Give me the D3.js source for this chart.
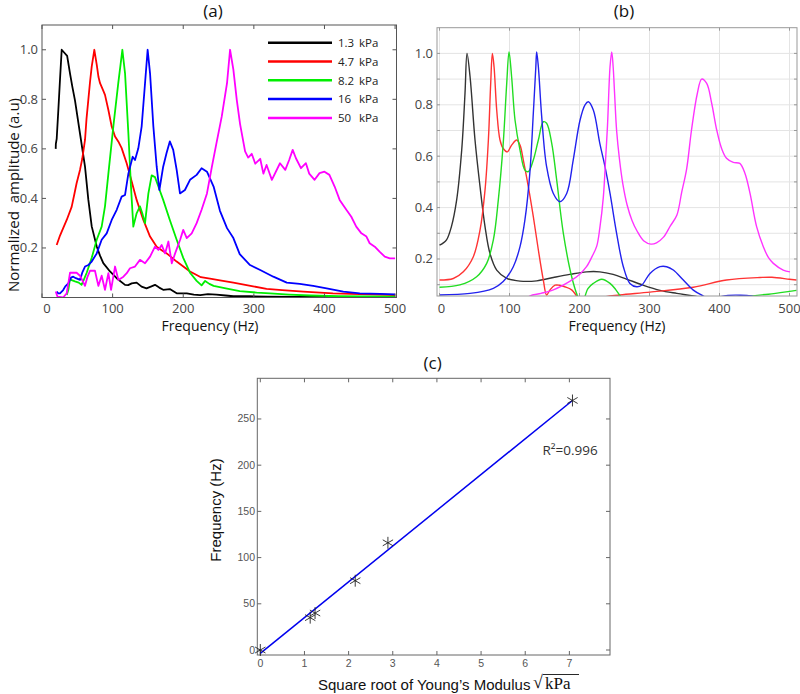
<!DOCTYPE html>
<html><head><meta charset="utf-8">
<script src="https://cdn.jsdelivr.net/npm/d3@7"></script>
<style>body{margin:0;background:#fff}svg{display:block}</style>
</head><body>
<script>
// ---------- DATA ----------
const seriesLabels = ["1.3", "4.7", "8.2", "16", "50"];
const colorsA = ["#000000", "#ff0000", "#00ee00", "#0000ff", "#ff00ff"];
const colorsB = ["#333333", "#ff3333", "#22dd22", "#2222ee", "#ff33ff"];
const freqTicks = [0, 100, 200, 300, 400, 500];
const ampTicks = [0.2, 0.4, 0.6, 0.8, 1.0];

// (a) measured spectra [frequency Hz, normalized amplitude]
const aBlack = [[19.4,0.6],[19.6,0.62],[20.8,0.64],[23,0.75],[25.5,0.88],[27.9,1.0],[31,0.99],[35.6,0.975],[39.7,0.904],[43,0.85],[46.7,0.796],[53.8,0.662],[60.9,0.528],[65.6,0.395],[70.4,0.287],[77.5,0.206],[82,0.17],[86.8,0.139],[96.3,0.105],[105.7,0.078],[117.6,0.051],[122,0.05],[127,0.057],[134,0.06],[141,0.044],[148,0.037],[155,0.045],[160,0.051],[166,0.04],[171.6,0.031],[181,0.034],[190.7,0.017],[205,0.017],[215,0.012],[224,0.01],[235,0.014],[247,0.012],[260,0.008],[271,0.005],[294,0.005],[320,0.003],[360,0.002],[400,0.002],[450,0.001],[500,0.001]];
const aRed = [[20.8,0.212],[25.5,0.25],[30,0.28],[35,0.313],[42,0.366],[46,0.42],[49,0.461],[53.8,0.515],[57,0.56],[60.9,0.636],[63,0.72],[65.6,0.798],[68,0.87],[70.4,0.932],[74.1,1.0],[77.5,0.94],[80,0.89],[82.2,0.865],[86,0.84],[89.2,0.818],[94,0.757],[98.7,0.69],[103.4,0.65],[108,0.63],[112.8,0.603],[119.9,0.542],[127,0.468],[134,0.394],[143.5,0.313],[153,0.246],[162.4,0.205],[170,0.19],[176.6,0.178],[190.7,0.145],[209.6,0.105],[225,0.082],[240,0.075],[252,0.069],[271,0.06],[299,0.045],[318,0.035],[340,0.03],[370,0.024],[412,0.017],[450,0.014],[500,0.01]];
const aGreen = [[35,0.01],[37.3,0.03],[39.7,0.077],[42,0.07],[46.7,0.065],[52,0.06],[56,0.051],[59,0.07],[63.3,0.1],[70.4,0.16],[77.5,0.233],[84.5,0.286],[89.2,0.368],[94,0.5],[101,0.69],[108,0.865],[113.8,1.0],[117.6,0.905],[122.3,0.663],[126,0.448],[129.3,0.286],[134,0.34],[138.7,0.368],[142,0.34],[145.9,0.3],[150.6,0.419],[155.3,0.493],[160,0.486],[164.8,0.448],[171.6,0.394],[181,0.313],[190.7,0.233],[200,0.16],[209.6,0.1],[219,0.067],[226,0.049],[231,0.067],[237,0.055],[243,0.047],[262,0.036],[280,0.026],[304,0.02],[323,0.017],[350,0.012],[380,0.008],[420,0.005],[460,0.004],[500,0.003]];
const aBlue = [[20.8,0.024],[23,0.017],[25.5,0.017],[30,0.03],[33,0.045],[37.3,0.057],[41,0.08],[44.2,0.084],[48,0.078],[53.8,0.071],[57,0.1],[60.9,0.125],[65,0.13],[70.4,0.145],[77.5,0.178],[84.5,0.233],[91.6,0.259],[98.7,0.313],[105.8,0.354],[112.8,0.407],[117.6,0.414],[122.3,0.5],[128.4,0.568],[131.7,0.555],[136.4,0.602],[141.1,0.69],[145.9,0.865],[149.6,1.0],[153,0.905],[157.7,0.69],[162.4,0.528],[166.2,0.434],[171.6,0.528],[176.3,0.582],[181,0.63],[185.8,0.596],[190.7,0.515],[195.4,0.42],[202.4,0.434],[209.6,0.475],[219,0.495],[226,0.522],[233.6,0.508],[243,0.448],[252,0.35],[262,0.28],[271,0.24],[280,0.175],[294.6,0.131],[309,0.111],[327.6,0.084],[346.6,0.06],[365,0.055],[384,0.047],[403,0.037],[426.7,0.024],[450,0.017],[479,0.015],[500,0.013]];
const aMagenta = [[19.4,0.024],[22,0.003],[30,0.0],[35,0.017],[39.7,0.1],[44,0.1],[49,0.1],[53.8,0.088],[60.9,0.047],[64,0.08],[68,0.108],[75,0.108],[79.8,0.047],[84.5,0.088],[89.2,0.031],[94,0.098],[97.8,0.031],[103.4,0.125],[108.2,0.071],[115.3,0.084],[120,0.098],[124.6,0.118],[131.7,0.125],[138.7,0.152],[145.9,0.138],[153,0.165],[160,0.205],[164.8,0.192],[169.5,0.212],[174.3,0.178],[179,0.226],[183.8,0.138],[188.5,0.178],[195.6,0.233],[200,0.273],[205,0.24],[212,0.259],[219,0.3],[226,0.354],[233.6,0.42],[240.6,0.528],[247,0.622],[254.5,0.73],[262,0.865],[266.3,1.0],[271,0.92],[275.8,0.798],[280.5,0.7],[287.6,0.59],[292,0.565],[297,0.58],[302,0.54],[309,0.56],[313.5,0.5],[318,0.535],[325.5,0.475],[337,0.542],[344.5,0.515],[350,0.555],[355,0.596],[359.6,0.562],[366.7,0.522],[373.7,0.542],[378.4,0.5],[386,0.475],[393,0.502],[400,0.508],[407,0.495],[414.4,0.448],[421.5,0.394],[431,0.354],[438,0.326],[445,0.286],[452.3,0.259],[459.4,0.246],[464,0.219],[471.2,0.205],[478,0.185],[485.4,0.165],[492.5,0.158],[500,0.158]];

// (b) simulated spectra
const bBlack = [[0,0.254],[5,0.262],[10,0.274],[17,0.326],[24.5,0.43],[31.7,0.624],[36.4,0.844],[39.3,1.0],[43.6,0.91],[50.7,0.663],[57.9,0.481],[65,0.326],[72,0.222],[81.7,0.157],[96,0.125],[115,0.114],[138.8,0.115],[162.6,0.128],[186,0.14],[210,0.15],[229,0.15],[248,0.14],[267,0.122],[291,0.098],[315,0.078],[339,0.066],[362.6,0.056],[385,0.045],[420,0.03]];
const bRed = [[0,0.118],[19.7,0.124],[34,0.15],[48.3,0.209],[57.9,0.313],[65,0.468],[69.8,0.663],[73.1,0.883],[75.5,1.0],[77.9,0.948],[81.7,0.78],[86.4,0.663],[91,0.63],[96.9,0.617],[103,0.643],[110.2,0.663],[115,0.643],[119.7,0.585],[126.9,0.481],[134,0.365],[141.2,0.235],[148.3,0.118],[153,0.06],[157.9,0.08],[165,0.098],[171,0.098],[179,0.092],[188.8,0.08],[196,0.056],[202,0.035],[215,0.02],[225,0.03],[236.4,0.052],[257.7,0.06],[300.7,0.071],[362.6,0.09],[410,0.118],[457.9,0.128],[475,0.129],[500,0.121],[510,0.118]];
const bGreen = [[0,0.09],[29,0.099],[53,0.131],[67.4,0.183],[76.9,0.274],[84,0.43],[91,0.65],[96,0.883],[99.3,1.006],[103,0.909],[107.9,0.74],[115,0.624],[122,0.546],[126.9,0.54],[134,0.585],[141.2,0.663],[148.3,0.734],[153,0.728],[160.3,0.65],[167.4,0.507],[176.9,0.3],[188.8,0.131],[198,0.05],[202,0.03],[207,0.05],[212,0.085],[219.7,0.105],[231.7,0.121],[243.6,0.105],[252,0.08],[260,0.05],[270,0.025],[300,0.01],[400,0.02],[443.6,0.055],[470,0.063],[499.7,0.074],[510,0.078]];
const bBlue = [[0,0.06],[43.6,0.066],[76.9,0.086],[91,0.112],[105.4,0.17],[115,0.248],[122,0.352],[129,0.533],[134,0.767],[137.6,0.948],[138.8,1.006],[141.2,0.948],[146,0.753],[153,0.559],[162.6,0.455],[172,0.423],[181.7,0.455],[191,0.585],[200.7,0.74],[207.9,0.8],[212.6,0.812],[219.7,0.78],[229,0.65],[236.4,0.559],[243.6,0.455],[253,0.3],[262.6,0.17],[272,0.105],[281.7,0.092],[288.8,0.098],[300.7,0.144],[315,0.17],[324.5,0.17],[334,0.157],[348.3,0.118],[362.6,0.079],[376.9,0.056],[388,0.04],[400,0.052],[412,0.058],[430,0.059],[445,0.056],[460,0.045],[500,0.03]];
const bMagenta = [[120,0.03],[129,0.056],[145,0.066],[162.6,0.08],[186,0.113],[200,0.14],[210,0.17],[218,0.21],[224.6,0.25],[229,0.32],[234,0.44],[237.5,0.6],[240,0.72],[243.6,0.948],[246,1.006],[248,0.95],[250,0.85],[253,0.7],[257,0.59],[262,0.49],[268,0.41],[275,0.35],[282,0.31],[292,0.27],[302,0.258],[310,0.263],[320,0.285],[330,0.33],[339,0.37],[346,0.46],[353,0.55],[360,0.702],[368.3,0.844],[374.5,0.9],[381.7,0.883],[388.8,0.806],[396,0.702],[403,0.63],[410,0.592],[419.7,0.576],[429,0.572],[436.4,0.533],[443.6,0.455],[453,0.326],[462.6,0.248],[470,0.205],[476.9,0.183],[491,0.157],[500.7,0.15]];

// (c) resonance frequency vs sqrt(E)
const sqrtE = [0, 1.13, 1.24, 2.15, 2.89, 7.07];
const peakFreq = [0, 35, 40, 75, 116, 270];
const fitX = [0, 7.07];
const fitY = [-3.6, 270];
const cXTicks = [0, 1, 2, 3, 4, 5, 6, 7];
const cYTicks = [0, 50, 100, 150, 200, 250];

// ---------- DRAW ----------
const W = 800, H = 694;
const svg = d3.select("body").append("svg").attr("width", W).attr("height", H);
const sans = "'Open Sans', 'Liberation Sans', sans-serif";
const arial = "'Liberation Sans', Arial, sans-serif";
const serif = "'Liberation Serif', 'DejaVu Serif', serif";

function tickMarks(g, x, y, xt, yt, len, col) {
  const [x0, x1] = x.range(), [y0, y1] = y.range();
  xt.forEach(t => {
    g.append("line").attr("x1", x(t)).attr("x2", x(t)).attr("y1", y0).attr("y2", y0 - len).attr("stroke", col);
    g.append("line").attr("x1", x(t)).attr("x2", x(t)).attr("y1", y1).attr("y2", y1 + len).attr("stroke", col);
  });
  yt.forEach(t => {
    g.append("line").attr("x1", x0).attr("x2", x0 + len).attr("y1", y(t)).attr("y2", y(t)).attr("stroke", col);
    g.append("line").attr("x1", x1).attr("x2", x1 - len).attr("y1", y(t)).attr("y2", y(t)).attr("stroke", col);
  });
}

// ===== Panel (a) =====
{
  const x = d3.scaleLinear().domain([0, 502]).range([42, 396.5]);
  const y = d3.scaleLinear().domain([0, 1.1]).range([297.5, 25]);
  const g = svg.append("g");
  g.append("clipPath").attr("id", "clipA").append("rect")
    .attr("x", 42).attr("y", 25).attr("width", 354.5).attr("height", 272.5);
  const line = d3.line().x(d => x(d[0])).y(d => y(d[1]));
  const series = [aBlack, aRed, aGreen, aBlue, aMagenta];
  series.forEach((s, i) => {
    g.append("path").attr("d", line(s)).attr("fill", "none")
      .attr("stroke", colorsA[i]).attr("stroke-width", 1.8).attr("stroke-linejoin", "round")
      .attr("clip-path", "url(#clipA)");
  });
  g.append("rect").attr("x", 42).attr("y", 25).attr("width", 354.5).attr("height", 272.5)
    .attr("fill", "none").attr("stroke", "#555").attr("stroke-width", 1);
  tickMarks(g, x, y, freqTicks, ampTicks, 4, "#555");
  freqTicks.forEach(t => g.append("text").attr("x", x(t) + (t === 0 ? 5 : 0)).attr("y", 313)
    .attr("text-anchor", "middle").attr("font-family", sans).attr("font-size", 13).attr("fill", "#444").text(t));
  ampTicks.forEach(t => g.append("text").attr("x", 38).attr("y", y(t) + 4.5)
    .attr("text-anchor", "end").attr("font-family", sans).attr("font-size", 13).attr("fill", "#444").text(t.toFixed(1)));
  g.append("text").attr("x", 210).attr("y", 331).attr("text-anchor", "middle")
    .attr("font-family", sans).attr("font-size", 14).attr("fill", "#111").text("Frequency (Hz)");
  g.append("text").attr("transform", "translate(19,195) rotate(-90)").attr("text-anchor", "middle")
    .attr("font-family", sans).attr("font-size", 15).attr("fill", "#111")
    .style("white-space", "pre").text("Normalized  amplitude (a.u)");
  g.append("text").attr("x", 213).attr("y", 17).attr("text-anchor", "middle")
    .attr("font-family", sans).attr("font-size", 17).attr("fill", "#111").text("(a)");
  // legend
  seriesLabels.forEach((lab, i) => {
    const ly = 42.7 + i * 18.8;
    g.append("line").attr("x1", 268).attr("x2", 332).attr("y1", ly).attr("y2", ly)
      .attr("stroke", colorsA[i]).attr("stroke-width", 2.5);
    const t = g.append("text").attr("y", ly + 4.2).attr("font-family", sans).attr("font-size", 11.5).attr("fill", "#222");
    t.append("tspan").attr("x", 338).text(lab);
    t.append("tspan").attr("x", 359).text("kPa");
  });
}

// ===== Panel (b) =====
{
  const x = d3.scaleLinear().domain([-3.6, 510.7]).range([437, 797]);
  const y = d3.scaleLinear().domain([0.056, 1.1]).range([296, 27.7]);
  const g = svg.append("g");
  g.append("clipPath").attr("id", "clipB").append("rect")
    .attr("x", 437).attr("y", 27.7).attr("width", 360).attr("height", 268.3);
  const gridY = d3.range(0.1, 1.01, 0.1);
  gridY.forEach(t => g.append("line").attr("x1", 437).attr("x2", 797).attr("y1", y(t)).attr("y2", y(t))
    .attr("stroke", "#e4e4e4").attr("stroke-width", 1));
  freqTicks.forEach(t => g.append("line").attr("x1", x(t)).attr("x2", x(t)).attr("y1", 27.7).attr("y2", 296)
    .attr("stroke", "#e4e4e4").attr("stroke-width", 1));
  const line = d3.line().curve(d3.curveCatmullRom.alpha(0.5)).x(d => x(d[0])).y(d => y(d[1]));
  const series = [bBlack, bRed, bGreen, bBlue, bMagenta];
  series.forEach((s, i) => {
    g.append("path").attr("d", line(s)).attr("fill", "none")
      .attr("stroke", colorsB[i]).attr("stroke-width", 1.4)
      .attr("clip-path", "url(#clipB)");
  });
  g.append("rect").attr("x", 437).attr("y", 27.7).attr("width", 360).attr("height", 268.3)
    .attr("fill", "none").attr("stroke", "#999").attr("stroke-width", 1);
  tickMarks(g, x, y, freqTicks, gridY, 3, "#999");
  freqTicks.forEach(t => g.append("text").attr("x", x(t) + (t === 0 ? 2 : 0)).attr("y", 313)
    .attr("text-anchor", "middle").attr("font-family", sans).attr("font-size", 13).attr("fill", "#444").text(t));
  ampTicks.forEach(t => g.append("text").attr("x", 433).attr("y", y(t) + 4.5)
    .attr("text-anchor", "end").attr("font-family", sans).attr("font-size", 13).attr("fill", "#444").text(t.toFixed(1)));
  g.append("text").attr("x", 617).attr("y", 331).attr("text-anchor", "middle")
    .attr("font-family", sans).attr("font-size", 14).attr("fill", "#111").text("Frequency (Hz)");
  g.append("text").attr("x", 624).attr("y", 17).attr("text-anchor", "middle")
    .attr("font-family", sans).attr("font-size", 17).attr("fill", "#111").text("(b)");
}

// ===== Panel (c) =====
{
  const x = d3.scaleLinear().domain([-0.068, 7.92]).range([257.3, 610]);
  const y = d3.scaleLinear().domain([-5.4, 294]).range([655, 378.3]);
  const g = svg.append("g");
  g.append("rect").attr("x", 257.3).attr("y", 378.3).attr("width", 352.7).attr("height", 276.7)
    .attr("fill", "none").attr("stroke", "#666").attr("stroke-width", 1);
  tickMarks(g, x, y, cXTicks, cYTicks, 4, "#666");
  cXTicks.forEach(t => g.append("text").attr("x", x(t)).attr("y", 667)
    .attr("text-anchor", "middle").attr("font-family", arial).attr("font-size", 10.5).attr("fill", "#555").text(t));
  cYTicks.forEach(t => g.append("text").attr("x", 255).attr("y", y(t) + 3.5)
    .attr("text-anchor", "end").attr("font-family", arial).attr("font-size", 10.5).attr("fill", "#555").text(t));
  // fit line
  g.append("path").attr("d", d3.line().x((d, i) => x(fitX[i])).y((d, i) => y(fitY[i]))(fitX))
    .attr("stroke", "#0000ee").attr("stroke-width", 1.5).attr("fill", "none");
  // asterisk markers
  const sym = d3.symbol().type(d3.symbolAsterisk).size(100);
  sqrtE.forEach((v, i) => {
    g.append("path").attr("d", sym()).attr("transform", `translate(${x(v)},${y(peakFreq[i])})`)
      .attr("fill", "none").attr("stroke", "#222").attr("stroke-width", 0.9);
  });
  g.append("text").attr("x", 542.5).attr("y", 455).attr("font-family", sans)
    .attr("font-size", 13.5).attr("fill", "#333").text("R²=0.996");
  g.append("text").attr("x", 432.7).attr("y", 369).attr("text-anchor", "middle")
    .attr("font-family", sans).attr("font-size", 17).attr("fill", "#111").text("(c)");
  g.append("text").attr("transform", "translate(221,510) rotate(-90)").attr("text-anchor", "middle")
    .attr("font-family", arial).attr("font-size", 15).attr("fill", "#111").text("Frequency (Hz)");
  g.append("text").attr("x", 318).attr("y", 690).attr("font-family", arial)
    .attr("font-size", 15).attr("fill", "#111").text("Square root of Young’s Modulus");
  g.append("text").attr("x", 533).attr("y", 688).attr("font-family", serif)
    .attr("font-size", 18).attr("fill", "#111").text("√");
  g.append("text").attr("x", 545).attr("y", 689).attr("font-family", serif)
    .attr("font-size", 17).attr("fill", "#111").text("kPa");
  g.append("line").attr("x1", 543).attr("x2", 579).attr("y1", 674.5).attr("y2", 674.5)
    .attr("stroke", "#111").attr("stroke-width", 0.9);
}
</script>
</body></html>
